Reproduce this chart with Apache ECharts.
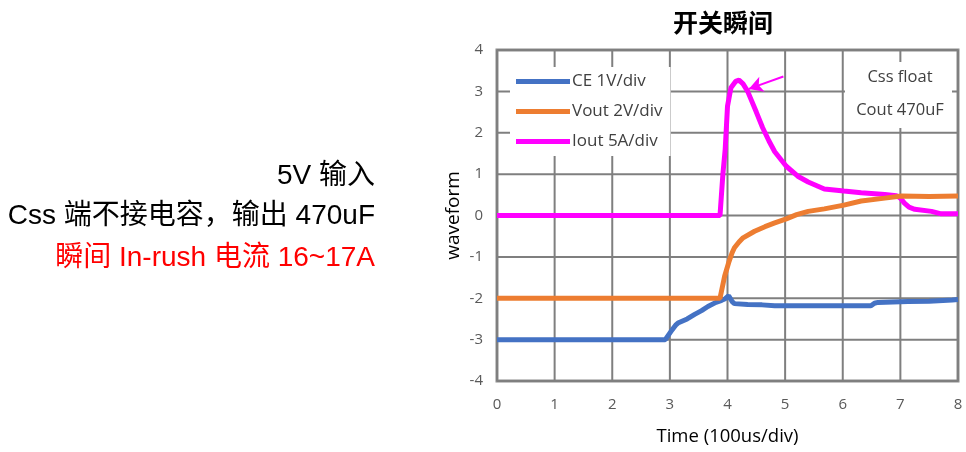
<!DOCTYPE html>
<html>
<head>
<meta charset="utf-8">
<script src="https://cdn.jsdelivr.net/npm/echarts@6/dist/echarts.min.js"></script>
<style>
  html, body { margin: 0; padding: 0; background: #fff; }
  #chart { width: 966px; height: 452px; }
</style>
</head>
<body>
<div id="chart"></div>
<script>
// Time axis in divisions of 100 us
const xTicks = [0, 1, 2, 3, 4, 5, 6, 7, 8];
const yTicks = [-4, -3, -2, -1, 0, 1, 2, 3, 4];

// CE trace (1 V/div, offset -3 div)
const ceTime = [0, 2.92, 3.02, 3.1, 3.14, 3.3, 3.43, 3.55, 3.66, 3.8, 3.9, 3.95, 4.02, 4.08, 4.12, 4.35, 4.6, 4.82, 5.5, 6.0, 6.49, 6.55, 6.61, 7.13, 7.5, 7.9, 8];
const ceVal  = [-3, -3, -2.8, -2.65, -2.6, -2.5, -2.39, -2.3, -2.2, -2.1, -2.05, -2.02, -1.94, -2.08, -2.13, -2.15, -2.16, -2.18, -2.18, -2.18, -2.18, -2.12, -2.1, -2.08, -2.07, -2.04, -2.03];

// Vout trace (2 V/div, offset -2 div)
const voutTime = [0, 3.87, 3.95, 4.02, 4.08, 4.12, 4.2, 4.27, 4.47, 4.65, 4.82, 5.02, 5.2, 5.4, 5.68, 6.02, 6.32, 6.73, 7.02, 7.5, 8];
const voutVal  = [-2, -2, -1.47, -1.14, -0.9, -0.78, -0.64, -0.54, -0.38, -0.27, -0.18, -0.08, 0.02, 0.1, 0.16, 0.25, 0.35, 0.42, 0.47, 0.46, 0.47];

// Iout trace (5 A/div)
const ioutTime = [0, 3.87, 3.92, 3.96, 4.0, 4.06, 4.14, 4.2, 4.27, 4.35, 4.41, 4.5, 4.61, 4.72, 4.82, 5.02, 5.22, 5.4, 5.68, 6.02, 6.32, 6.73, 6.93, 7.0, 7.07, 7.15, 7.25, 7.54, 7.71, 8];
const ioutVal  = [0, 0, 1.0, 1.6, 2.64, 3.09, 3.24, 3.27, 3.18, 3.0, 2.8, 2.5, 2.12, 1.8, 1.54, 1.19, 0.95, 0.81, 0.64, 0.59, 0.55, 0.51, 0.48, 0.42, 0.3, 0.2, 0.15, 0.1, 0.04, 0.04];

// Peak pointer arrow (start -> tip)
const arrowFrom = [4.97, 3.36];
const arrowTo = [4.37, 3.06];

const seriesNames = ['CE 1V/div', 'Vout 2V/div', 'Iout 5A/div'];
const seriesColors = ['#4472C4', '#ED7D31', '#FF00FF'];

const zip = (xs, ys) => xs.map((x, i) => [x, ys[i]]);

const cjk = '"Noto Sans CJK SC", "Open Sans", sans-serif';
const ui = '"Open Sans", "Noto Sans", sans-serif';
const arial = '"Liberation Sans", Arial, "Noto Sans CJK SC", sans-serif';
const frameColor = '#8c8c8c';
const gridColor = '#7f7f7f';

const chart = echarts.init(document.getElementById('chart'), null, { renderer: 'canvas' });

const lineSeries = (name, data, color, extra) => Object.assign({
  name, type: 'line', data, showSymbol: false, symbol: 'none',
  lineStyle: { color, width: 5 }, itemStyle: { color },
  animation: false, z: 3
}, extra || {});

// Division grid drawn by a custom series at every tick, through the axis scales
const gridSeries = {
  type: 'custom', silent: true, z: 1, animation: false,
  data: [0],
  renderItem: (params, api) => {
    const children = [];
    xTicks.forEach(v => {
      const a = api.coord([v, yTicks[0]]);
      const b = api.coord([v, yTicks[yTicks.length - 1]]);
      children.push({ type: 'line', shape: { x1: a[0], y1: a[1], x2: b[0], y2: b[1] }, style: { stroke: gridColor, lineWidth: 2 } });
    });
    yTicks.forEach(v => {
      const a = api.coord([xTicks[0], v]);
      const b = api.coord([xTicks[xTicks.length - 1], v]);
      children.push({ type: 'line', shape: { x1: a[0], y1: a[1], x2: b[0], y2: b[1] }, style: { stroke: gridColor, lineWidth: 2 } });
    });
    return { type: 'group', children };
  }
};

chart.setOption({
  animation: false,
  grid: { left: 497, right: 8, top: 50, bottom: 71, show: true, borderColor: frameColor, borderWidth: 3 },
  legend: {
    orient: 'vertical', left: 510, top: 67,
    data: seriesNames, icon: 'rect', itemWidth: 54, itemHeight: 5, itemGap: 13,
    backgroundColor: '#fff', padding: [6, 8, 6, 6],
    textStyle: { fontFamily: ui, fontSize: 17, color: '#404040', padding: [0, 0, 0, -3] },
    selectedMode: false
  },
  xAxis: {
    type: 'value', min: 0, max: 8, interval: 1,
    name: 'Time (100us/div)', nameLocation: 'middle', nameGap: 46,
    nameTextStyle: { fontFamily: ui, fontSize: 18.5, color: '#000' },
    axisLine: { show: false }, axisTick: { show: false },
    axisLabel: { margin: 16, fontFamily: ui, fontSize: 15, color: '#595959' },
    splitLine: { show: false }
  },
  yAxis: {
    type: 'value', min: -4, max: 4, interval: 1,
    name: 'waveform', nameLocation: 'middle', nameGap: 34, nameRotate: 90,
    nameTextStyle: { fontFamily: ui, fontSize: 19, color: '#000' },
    axisLine: { show: false }, axisTick: { show: false },
    axisLabel: { margin: 14, fontFamily: ui, fontSize: 15, color: '#595959' },
    splitLine: { show: false }
  },
  graphic: [
    { type: 'text', x: 723, y: 22, style: { text: '开关瞬间', fontFamily: cjk, fontSize: 25, fontWeight: 'bold', fill: '#000', textAlign: 'center', textVerticalAlign: 'middle' } },
    { type: 'rect', shape: { x: 845, y: 62, width: 107, height: 66 }, style: { fill: '#fff' }, z: 2 },
    { type: 'text', x: 900, y: 77, style: { text: 'Css float', fontFamily: ui, fontSize: 16.5, fill: '#404040', textAlign: 'center', textVerticalAlign: 'middle' }, z: 3 },
    { type: 'text', x: 900, y: 110, style: { text: 'Cout 470uF', fontFamily: ui, fontSize: 16.5, fill: '#404040', textAlign: 'center', textVerticalAlign: 'middle' }, z: 3 },
    { type: 'text', x: 375, y: 176, style: { text: '5V 输入', fontFamily: arial, fontSize: 28, fill: '#000', textAlign: 'right', textVerticalAlign: 'middle' } },
    { type: 'text', x: 375, y: 216, style: { text: 'Css 端不接电容，输出 470uF', fontFamily: arial, fontSize: 28, fill: '#000', textAlign: 'right', textVerticalAlign: 'middle' } },
    { type: 'text', x: 375, y: 258, style: { text: '瞬间 In-rush 电流 16~17A', fontFamily: arial, fontSize: 28, fill: '#ff0000', textAlign: 'right', textVerticalAlign: 'middle' } }
  ],
  series: [
    gridSeries,
    lineSeries(seriesNames[0], zip(ceTime, ceVal), seriesColors[0]),
    lineSeries(seriesNames[2], zip(ioutTime, ioutVal), seriesColors[2], {
      markLine: {
        silent: true, symbol: ['none', 'arrow'], symbolSize: [12, 14],
        label: { show: false },
        lineStyle: { color: seriesColors[2], width: 2, type: 'solid' },
        data: [[{ coord: arrowFrom }, { coord: arrowTo }]]
      }
    }),
    lineSeries(seriesNames[1], zip(voutTime, voutVal), seriesColors[1])
  ]
});
</script>
</body>
</html>
